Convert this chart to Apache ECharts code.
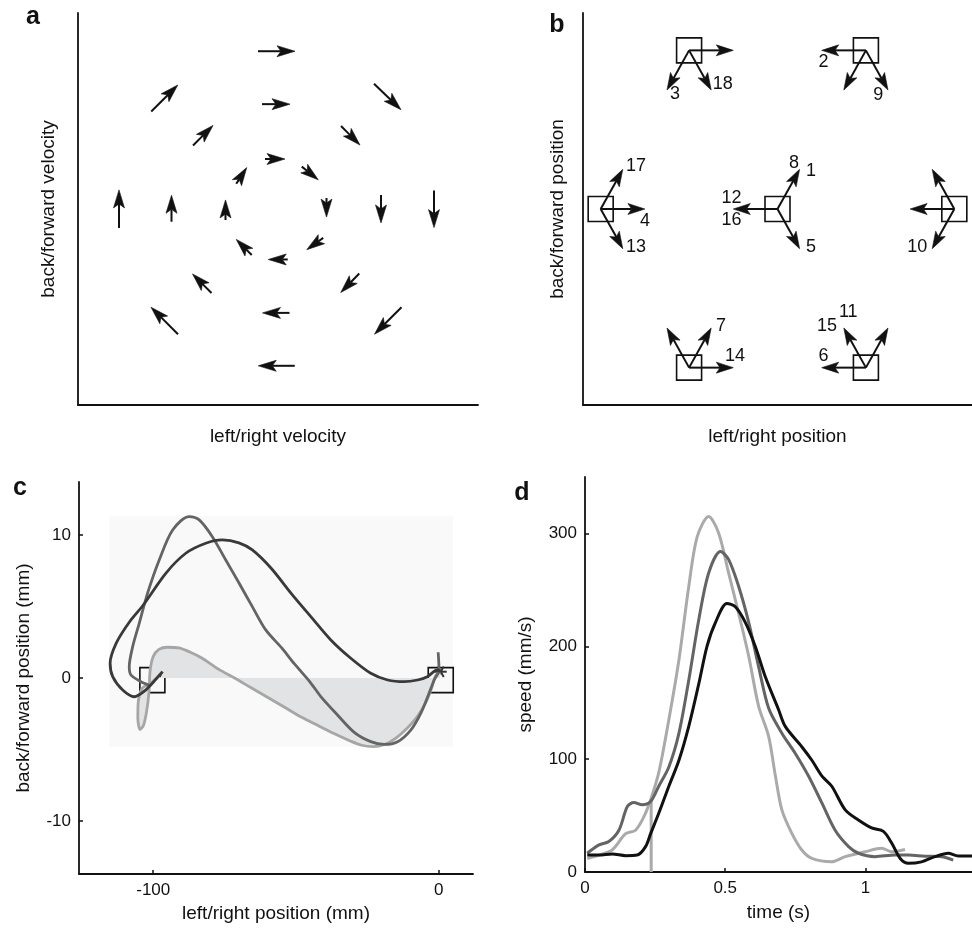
<!DOCTYPE html>
<html>
<head>
<meta charset="utf-8">
<script src="https://cdn.jsdelivr.net/npm/echarts@6/dist/echarts.min.js"></script>
<style>
  html, body { margin: 0; padding: 0; background: #fff; }
  #chart { width: 972px; height: 929px; }
</style>
</head>
<body>
<div id="chart"></div>
<script>
// ---- panel a: velocity field, each arrow is [x, y, dx, dy] (centre and vector)
const velOuter = [[-0.03, 3.22, 0.74, 0], [2.19, 2.29, 0.54, -0.53], [3.12, 0, 0, -0.76], [2.2, -2.28, -0.54, -0.55],
  [-0.03, -3.2, -0.73, 0], [-2.27, -2.28, -0.54, 0.55], [-3.18, 0, 0, 0.78], [-2.27, 2.26, 0.53, 0.54]];
const velMiddle = [[-0.04, 2.14, 0.56, 0], [1.45, 1.5, 0.38, -0.39], [2.06, 0, 0, -0.57], [1.44, -1.51, -0.37, -0.39],
  [-0.04, -2.12, -0.54, 0], [-1.52, -1.52, -0.38, 0.39], [-2.13, 0.01, 0, 0.54], [-1.5, 1.5, 0.4, 0.41]];
const velInner = [[-0.06, 1.02, 0.4, 0], [0.64, 0.73, 0.33, -0.27], [0.97, 0.03, 0, -0.39], [0.74, -0.71, -0.33, -0.24],
  [0, -1.03, -0.39, 0], [-0.68, -0.78, -0.31, 0.32], [-1.05, -0.02, 0, 0.41], [-0.73, 0.68, 0.21, 0.33]];

// ---- panel b: targets, directions (deg) of the arrows drawn from each, movement numbers
const targets = [[0, 0], [-1, 0], [1, 0], [-0.5, 0.866], [0.5, 0.866], [-0.5, -0.866], [0.5, -0.866]];
const targetArrows = [[60, 180, 300], [60, 0, 300], [120, 180, 240], [0, 240, 300], [180, 240, 300], [120, 60, 0], [180, 120, 60]];
const moveLabels = [['1', 0.19, 0.21], ['2', 0.26, 0.8], ['3', -0.58, 0.63], ['4', -0.75, -0.066], ['5', 0.19, -0.21],
  ['6', 0.26, -0.8], ['7', -0.32, -0.64], ['8', 0.093, 0.25], ['9', 0.57, 0.62], ['10', 0.79, -0.21],
  ['11', 0.4, -0.56], ['12', -0.26, 0.06], ['13', -0.8, -0.21], ['14', -0.24, -0.8], ['15', 0.28, -0.64],
  ['16', -0.26, -0.06], ['17', -0.8, 0.235], ['18', -0.31, 0.68]];

// ---- panel c: hand paths (mm)
const pathDark = [[-96.7, 0.44], [-100, -0.3], [-103, -0.9], [-106.6, -1.31], [-110.7, -0.84], [-114.2, 0.09], [-115.1, 1.03],
  [-113, 2.42], [-108.4, 3.9], [-103.5, 5.1], [-95.6, 7.32], [-88.6, 8.72], [-81.6, 9.42], [-75.8, 9.65], [-70, 9.45],
  [-65.3, 8.95], [-58.7, 7.67], [-51.7, 5.92], [-44.8, 4.29], [-37.8, 2.66], [-30.8, 1.38], [-23.8, 0.33], [-17.9, -0.14],
  [-12.1, -0.26], [-7.4, -0.14], [-4, 0.09], [-0.5, 0.56], [0.7, 0.44]];
const pathMid = [[-101.5, -0.5], [-104.3, -0.26], [-107.8, 0.21], [-108.4, 0.79], [-107.2, 2.19], [-104.9, 3.82], [-102, 5.92],
  [-97.9, 8.25], [-93.2, 10.35], [-87.4, 11.28], [-83.9, 11.05], [-79.3, 9.88], [-74.6, 8.25], [-69.9, 6.62], [-65.3, 4.99],
  [-60.6, 3.36], [-55, 2.1], [-50.6, 1.0], [-45, -0.3], [-41.3, -1.3], [-35.4, -2.6], [-29.6, -3.8], [-23.8, -4.45],
  [-19.1, -4.64], [-14.4, -4.45], [-9.8, -3.64], [-6.3, -2.47], [-3.4, -1.07], [-1.6, -0.14], [0.1, 0.56], [-0.2, 1.8]];
const pathLight = [[-97, 0.4], [-101, -0.4], [-103.8, -0.7], [-105.3, -1.8], [-105.4, -2.8], [-104.6, -3.6], [-103.4, -3.3],
  [-102.3, -2.3], [-101.5, -1.0], [-101.1, 0.5], [-100, 1.5], [-98, 2.0], [-95, 2.15], [-91, 2.1], [-87, 1.8], [-83, 1.4],
  [-77, 0.6], [-71.5, 0], [-66, -0.65], [-60, -1.35], [-54, -2.05], [-48, -2.75], [-42, -3.35], [-36.5, -3.9], [-31, -4.4],
  [-27, -4.7], [-23, -4.8], [-19, -4.65], [-15, -4.2], [-11, -3.5], [-7.5, -2.7], [-4.5, -1.7], [-2.5, -0.7], [-1, 0.2], [0.5, 0.4]];
const cTargets = [[-100.3, -0.15], [0.7, -0.15]];
const cEnds = [[-96.7, 0.44], [0.7, 0.44]];
const cBox = [-115.4, 11.3, 4.9, -4.8];

// ---- panel d: speed profiles (s, mm/s)
const speedBlack = [[0.008, 15], [0.05, 15], [0.097, 16], [0.145, 14.5], [0.186, 15], [0.216, 22.5], [0.234, 34], [0.263, 52],
  [0.299, 76], [0.335, 99], [0.37, 129], [0.406, 167], [0.435, 200], [0.465, 221], [0.506, 238], [0.536, 235], [0.572, 221],
  [0.607, 200], [0.643, 173], [0.69, 144], [0.714, 129], [0.773, 111], [0.809, 99], [0.845, 85], [0.88, 76], [0.928, 55],
  [0.975, 46], [1.022, 39], [1.064, 36], [1.094, 25.5], [1.124, 12], [1.153, 7.7], [1.2, 9], [1.248, 13.6], [1.295, 16.6],
  [1.331, 14.2], [1.38, 14.2]];
const speedMid = [[0.008, 16.6], [0.05, 24], [0.085, 27], [0.121, 37], [0.151, 58], [0.174, 61.5], [0.204, 59.5], [0.234, 62.4],
  [0.263, 76], [0.299, 93], [0.335, 123], [0.37, 170], [0.406, 224], [0.441, 265], [0.483, 284], [0.512, 277], [0.548, 253],
  [0.584, 221], [0.619, 182], [0.655, 145], [0.702, 123], [0.75, 105], [0.797, 85], [0.845, 61], [0.892, 37], [0.94, 22.5],
  [0.975, 16.6], [1.034, 13.6], [1.106, 15], [1.153, 15], [1.212, 14], [1.272, 13.6], [1.313, 10.6]];
const speedLight = [[0.008, 12], [0.05, 15], [0.097, 19.5], [0.145, 34], [0.18, 37], [0.21, 49], [0.234, 64], [0.263, 88],
  [0.299, 135], [0.335, 188], [0.37, 253], [0.4, 297], [0.441, 315], [0.477, 300], [0.512, 265], [0.548, 229], [0.584, 191],
  [0.619, 147], [0.655, 120], [0.679, 85], [0.702, 55], [0.738, 34], [0.773, 19.5], [0.809, 12], [0.88, 9], [0.928, 13.6],
  [0.999, 18], [1.058, 21], [1.094, 18], [1.141, 20]];
const onsetLine = [[0.236, 0], [0.236, 64]];

const FONT = '"Liberation Sans", Arial, Helvetica, sans-serif';
const INK = '#111111';

// arrow = shaft + notched filled head, in pixels
function arrow(p0, p1, head, halfW, lw) {
  const dx = p1[0] - p0[0], dy = p1[1] - p0[1];
  const len = Math.hypot(dx, dy) || 1;
  const ux = dx / len, uy = dy / len, nx = -uy, ny = ux;
  const h = Math.min(head, len);
  const bx = p1[0] - ux * h, by = p1[1] - uy * h;
  const nb = [bx + ux * h * 0.22, by + uy * h * 0.22];
  return [
    { type: 'line', shape: { x1: p0[0], y1: p0[1], x2: nb[0], y2: nb[1] }, style: { stroke: INK, lineWidth: lw } },
    { type: 'polygon', shape: { points: [p1, [bx + nx * halfW, by + ny * halfW], nb, [bx - nx * halfW, by - ny * halfW]] },
      style: { fill: INK, stroke: INK, lineWidth: 0.6, lineJoin: 'miter' } }
  ];
}

function velArrow(params, api) {
  const x = api.value(0), y = api.value(1), u = api.value(2), v = api.value(3);
  const p0 = api.coord([x - u / 2, y - v / 2]);
  const p1 = api.coord([x + u / 2, y + v / 2]);
  return { type: 'group', children: arrow(p0, p1, 18, 5.5, 2) };
}

const ARROW_LEN = 0.25;
const bArrowData = [];
targets.forEach((t, i) => targetArrows[i].forEach(a => bArrowData.push([t[0], t[1], a])));

function posArrow(params, api) {
  const x = api.value(0), y = api.value(1), a = api.value(2) * Math.PI / 180;
  const p0 = api.coord([x, y]);
  const p1 = api.coord([x + ARROW_LEN * Math.cos(a), y + ARROW_LEN * Math.sin(a)]);
  return { type: 'group', children: arrow(p0, p1, 17, 5.5, 2) };
}

function square(params, api) {
  const p = api.coord([api.value(0), api.value(1)]);
  return { type: 'rect', shape: { x: p[0] - 12.5, y: p[1] - 12.5, width: 25, height: 25 },
    style: { fill: 'none', stroke: INK, lineWidth: 1.6 } };
}

function star(params, api) {
  const p = api.coord([api.value(0), api.value(1)]);
  const kids = [0, 60, 120].map(d => {
    const r = d * Math.PI / 180;
    return { type: 'line', shape: { x1: p[0] - 6 * Math.cos(r), y1: p[1] - 6 * Math.sin(r), x2: p[0] + 6 * Math.cos(r), y2: p[1] + 6 * Math.sin(r) },
      style: { stroke: '#333', lineWidth: 2 } };
  });
  return { type: 'group', children: kids };
}

function axis(extra) {
  return Object.assign({
    type: 'value',
    axisLine: { show: true, onZero: false, lineStyle: { color: INK, width: 1.8 } },
    axisTick: { show: false },
    axisLabel: { show: false },
    splitLine: { show: false },
    nameLocation: 'middle',
    nameTextStyle: { fontSize: 19, color: INK, fontFamily: FONT }
  }, extra);
}
function ticks(values) {
  return {
    axisTick: { show: true, inside: true, length: 4, customValues: values, lineStyle: { color: INK, width: 1.5 } },
    axisLabel: { show: true, customValues: values, fontSize: 17, color: INK, fontFamily: FONT, margin: 8 }
  };
}

const chart = echarts.init(document.getElementById('chart'));
chart.setOption({
  animation: false,
  backgroundColor: '#fff',
  grid: [
    { left: 78, top: 13, width: 400, height: 392 },
    { left: 583, top: 13, width: 404, height: 392 },
    { left: 79, top: 482, width: 394, height: 392 },
    { left: 585, top: 477, width: 388, height: 395 }
  ],
  xAxis: [
    axis({ gridIndex: 0, min: -4, max: 4, name: 'left/right velocity', nameGap: 22 }),
    axis({ gridIndex: 1, min: -1.1, max: 1.1, name: 'left/right position', nameGap: 22 }),
    axis(Object.assign({ gridIndex: 2, min: -126, max: 12, name: 'left/right position (mm)', nameGap: 30 }, ticks([-100, 0]))),
    axis(Object.assign({ gridIndex: 3, min: 0, max: 1.38, name: 'time (s)', nameGap: 31 }, ticks([0, 0.5, 1])))
  ],
  yAxis: [
    axis({ gridIndex: 0, min: -4, max: 4, name: 'back/forward velocity', nameGap: 20 }),
    axis({ gridIndex: 1, min: -1.07, max: 1.07, name: 'back/forward position', nameGap: 16 }),
    axis(Object.assign({ gridIndex: 2, min: -13.7, max: 13.7, name: 'back/forward position (mm)', nameGap: 46 }, ticks([-10, 0, 10]))),
    axis(Object.assign({ gridIndex: 3, min: 0, max: 350, name: 'speed (mm/s)', nameGap: 50 }, ticks([0, 100, 200, 300])))
  ],
  graphic: [
    { type: 'text', x: 33, y: 17, style: { text: 'a', fontSize: 25, fontWeight: 'bold', fontFamily: FONT, fill: INK, align: 'center', verticalAlign: 'middle' } },
    { type: 'text', x: 557, y: 25, style: { text: 'b', fontSize: 25, fontWeight: 'bold', fontFamily: FONT, fill: INK, align: 'center', verticalAlign: 'middle' } },
    { type: 'text', x: 20, y: 488, style: { text: 'c', fontSize: 25, fontWeight: 'bold', fontFamily: FONT, fill: INK, align: 'center', verticalAlign: 'middle' } },
    { type: 'text', x: 522, y: 493, style: { text: 'd', fontSize: 25, fontWeight: 'bold', fontFamily: FONT, fill: INK, align: 'center', verticalAlign: 'middle' } }
  ],
  series: [
    // a
    { type: 'custom', xAxisIndex: 0, yAxisIndex: 0, renderItem: velArrow, data: velOuter },
    { type: 'custom', xAxisIndex: 0, yAxisIndex: 0, renderItem: velArrow, data: velMiddle },
    { type: 'custom', xAxisIndex: 0, yAxisIndex: 0, renderItem: velArrow, data: velInner },
    // b
    { type: 'custom', xAxisIndex: 1, yAxisIndex: 1, renderItem: square, data: targets, clip: false },
    { type: 'custom', xAxisIndex: 1, yAxisIndex: 1, renderItem: posArrow, data: bArrowData, clip: false },
    { type: 'custom', xAxisIndex: 1, yAxisIndex: 1, data: moveLabels.map(m => [m[1], m[2], m[0]]),
      renderItem: (params, api) => {
        const p = api.coord([api.value(0), api.value(1)]);
        return { type: 'text', x: p[0], y: p[1],
          style: { text: moveLabels[params.dataIndex][0], fontSize: 18, fontFamily: FONT, fill: INK, align: 'center', verticalAlign: 'middle' } };
      } },
    // c
    { type: 'custom', xAxisIndex: 2, yAxisIndex: 2, data: [cBox], z: 0,
      renderItem: (params, api) => {
        const a = api.coord([cBox[0], cBox[1]]), b = api.coord([cBox[2], cBox[3]]);
        return { type: 'rect', shape: { x: a[0], y: a[1], width: b[0] - a[0], height: b[1] - a[1] }, style: { fill: '#f9f9f9' } };
      } },
    { type: 'line', xAxisIndex: 2, yAxisIndex: 2, data: pathLight, showSymbol: false, smooth: 0.3,
      lineStyle: { width: 0 }, areaStyle: { color: '#e2e3e4', opacity: 1, origin: 0 } },
    { type: 'line', xAxisIndex: 2, yAxisIndex: 2, data: pathLight, showSymbol: false, smooth: 0.3, lineStyle: { color: '#a6a6a6', width: 2.8 } },
    { type: 'line', xAxisIndex: 2, yAxisIndex: 2, data: pathMid, showSymbol: false, smooth: 0.3, lineStyle: { color: '#646464', width: 2.8 } },
    { type: 'line', xAxisIndex: 2, yAxisIndex: 2, data: pathDark, showSymbol: false, smooth: 0.3, lineStyle: { color: '#393939', width: 2.8 } },
    { type: 'custom', xAxisIndex: 2, yAxisIndex: 2, renderItem: square, data: cTargets, clip: false },
    { type: 'custom', xAxisIndex: 2, yAxisIndex: 2, renderItem: star, data: cEnds, clip: false },
    // d
    { type: 'line', xAxisIndex: 3, yAxisIndex: 3, data: onsetLine, showSymbol: false, lineStyle: { color: '#aaaaaa', width: 3 } },
    { type: 'line', xAxisIndex: 3, yAxisIndex: 3, data: speedLight, showSymbol: false, smooth: 0.3, lineStyle: { color: '#aaaaaa', width: 3 } },
    { type: 'line', xAxisIndex: 3, yAxisIndex: 3, data: speedMid, showSymbol: false, smooth: 0.3, lineStyle: { color: '#646464', width: 3 } },
    { type: 'line', xAxisIndex: 3, yAxisIndex: 3, data: speedBlack, showSymbol: false, smooth: 0.3, lineStyle: { color: '#111111', width: 3 } }
  ]
});
</script>
</body>
</html>
